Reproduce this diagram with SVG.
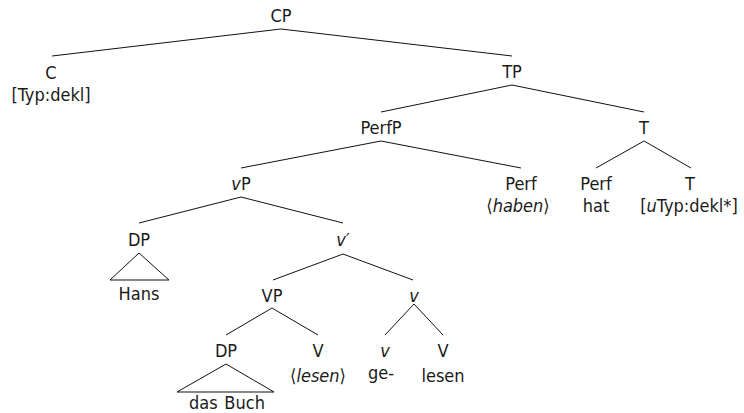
<svg xmlns="http://www.w3.org/2000/svg" width="744" height="413" viewBox="0 0 744 413">
  <style>
    text { font-family: "DejaVu Sans", sans-serif; font-stretch: condensed; font-size: 18px; fill: #1a1a1a; text-anchor: middle; }
    .i { font-style: italic; }
    .edge { stroke: #111; stroke-width: 1; fill: none; }
    .tri { stroke: #111; stroke-width: 1; fill: none; stroke-linejoin: miter; }
  </style>
  <rect width="744" height="413" fill="#fff"/>

  <!-- tree branches -->
  <g id="connectors">
    <polyline class="edge" points="52,56 281,29 512,56"/>
    <polyline class="edge" points="381,112 512,85 644,112"/>
    <polyline class="edge" points="241,168 381,141 521,168"/>
    <polyline class="edge" points="596,168 644,141 691,168"/>
    <polyline class="edge" points="139,223 241,197 343,223"/>
    <polyline class="edge" points="273,280 343,254 413,280"/>
    <polyline class="edge" points="226,335 272,308 318,335"/>
    <polyline class="edge" points="385,335 414,304 443,335"/>
  </g>

  <g id="CP"><text x="281" y="22">CP</text></g>
  <g id="C"><text x="51" y="79">C</text><text x="51" y="101">[Typ:dekl]</text></g>
  <g id="TP"><text x="512" y="78">TP</text></g>
  <g id="PerfP"><text x="381" y="134">PerfP</text></g>
  <g id="T"><text x="644" y="134">T</text></g>
  <g id="vP"><text x="241" y="190"><tspan class="i">v</tspan>P</text></g>
  <g id="Perf-trace"><text x="521" y="190">Perf</text><text x="518" y="212">⟨<tspan class="i">haben</tspan>⟩</text></g>
  <g id="Perf-hat"><text x="596" y="190">Perf</text><text x="596" y="212">hat</text></g>
  <g id="T-head"><text x="689" y="212">[<tspan class="i">u</tspan>Typ:dekl*]</text><text x="690" y="190">T</text></g>
  <g id="DP-Hans">
    <text x="139" y="246">DP</text>
    <polygon class="tri" points="139,253 110,280 169,280"/>
    <text x="139" y="300">Hans</text>
  </g>
  <g id="v-bar"><text x="343" y="246" class="i">v′</text></g>
  <g id="VP"><text x="272" y="302">VP</text></g>
  <g id="v-complex"><text x="414" y="302" class="i">v</text></g>
  <g id="DP-Buch">
    <text x="226" y="357">DP</text>
    <polygon class="tri" points="226,364 177,392 274,392"/>
    <text x="227" y="409" word-spacing="1.5">das Buch</text>
  </g>
  <g id="V-trace"><text x="318" y="357">V</text><text x="318" y="382">⟨<tspan class="i">lesen</tspan>⟩</text></g>
  <g id="v-ge"><text x="385" y="357" class="i">v</text><text x="381" y="379">ge-</text></g>
  <g id="V-lesen"><text x="443" y="357">V</text><text x="443" y="382">lesen</text></g>
</svg>
